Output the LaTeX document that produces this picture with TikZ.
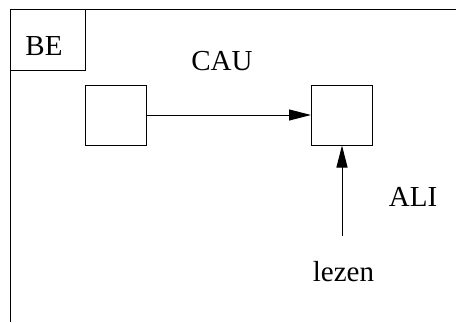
\documentclass[tikz,border=0pt]{standalone}
\usepackage{fontspec}
\setmainfont{Liberation Serif}
\usetikzlibrary{arrows.meta}
\begin{document}
\begin{tikzpicture}[x=1pt,y=-1pt,line width=1pt,
  sq/.style={draw,minimum width=61pt,minimum height=60pt,inner sep=0pt},
  lbl/.style={anchor=base,inner sep=0pt,font=\fontsize{29}{34}\selectfont},
  arr/.style={-{Triangle[length=22pt,width=11pt]}}]
\useasboundingbox (0,0) rectangle (456,322);
\coordinate (fbl) at (10,322);
\coordinate (ftl) at (10,9.5);
\coordinate (ftr) at (456,9.5);
\draw (fbl) -- (ftl) -- (ftr);
\node[draw,minimum width=75pt,minimum height=60.5pt,inner sep=0pt] (bebox) at (47.5,39.75) {};
\node[lbl] (be) at (44,55) {BE};
\node[lbl] (cau) at (222,70) {CAU};
\node[lbl] (ali) at (413,206) {ALI};
\node[lbl] (lezen) at (343.5,281.5) {lezen};
\node[sq] (a) at (115.5,115) {};
\node[sq] (b) at (342,115) {};
\coordinate (src) at (342,236);
\draw[arr] (a.east) -- (b.west);
\draw[arr] (src) -- (b.south);
\end{tikzpicture}
\end{document}
